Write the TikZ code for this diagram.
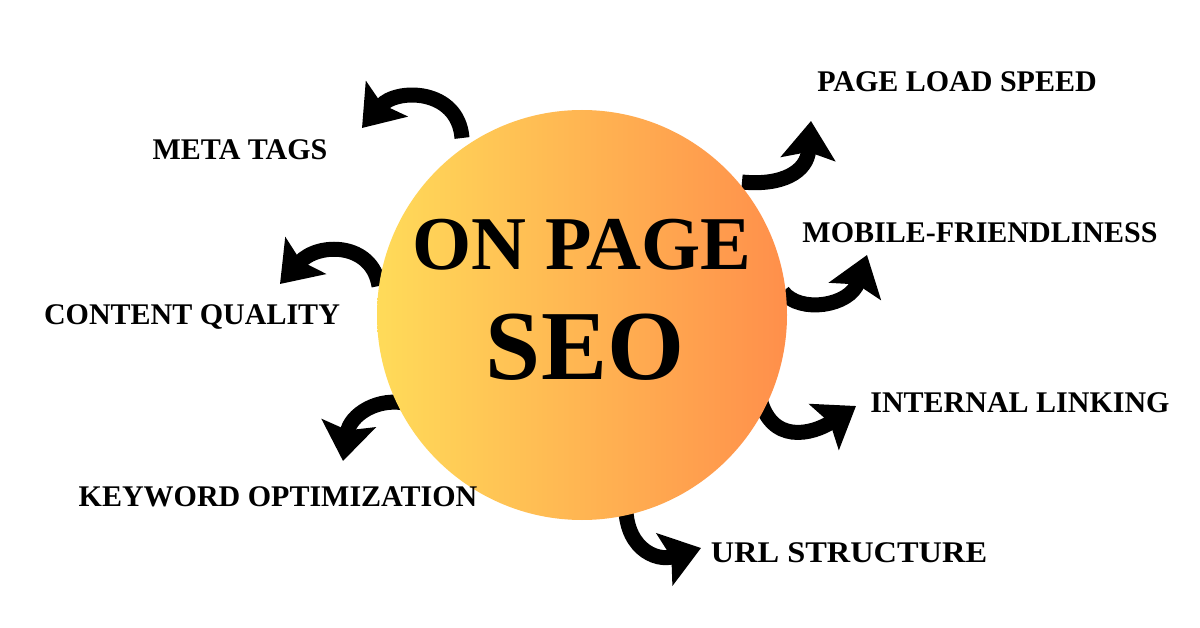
\documentclass[tikz,border=0pt]{standalone}
\usepackage{fontspec}
\setmainfont{Liberation Serif}
\usetikzlibrary{arrows.meta}
\definecolor{seoyellow}{HTML}{FFDB59}
\definecolor{seoorange}{HTML}{FF8F4B}
\tikzset{
  label/.style={font=\bfseries\fontsize{30}{34}\selectfont, anchor=base, inner sep=0pt},
  curvearrow/.style={line width=15pt, -{Stealth[length=38pt, width=54pt, inset=7pt]}},
}
\begin{document}
\begin{tikzpicture}[x=1pt, y=-1pt]
\useasboundingbox (0,0) rectangle (1200,628);
\fill[white] (0,0) rectangle (1200,628);
% arrow end points
\coordinate (t1) at (462,138); \coordinate (h1) at (362,128);
\coordinate (t2) at (742,182); \coordinate (h2) at (811,121);
\coordinate (t3) at (626,497); \coordinate (h3) at (701,548);
\coordinate (t4) at (379,286); \coordinate (h4) at (280,284);
\coordinate (t5) at (409,404); \coordinate (h5) at (343,461);
\coordinate (t6) at (783,292); \coordinate (h6) at (867,255);
\coordinate (t7) at (759,395); \coordinate (h7) at (856,406);
% arrows
\draw[curvearrow] (t1) .. controls (458,88) and (396,88) .. (h1);
\draw[curvearrow] (t2) .. controls (782,186) and (807,172) .. (h2);
\draw[curvearrow] (t3) .. controls (622,548) and (656,562) .. (h3);
\draw[curvearrow] (t4) .. controls (372,242) and (318,242) .. (h4);
\draw[curvearrow] (t5) .. controls (378,396) and (350,415) .. (h5);
\draw[curvearrow] (t6) .. controls (800,314) and (850,306) .. (h6);
\draw[curvearrow] (t7) .. controls (770,446) and (813,434) .. (h7);
% circle
\node[circle, minimum size=410pt, inner sep=0pt, left color=seoyellow, right color=seoorange] (seo) at (582,315) {};
\node[anchor=base, inner sep=0pt, font=\bfseries\fontsize{76}{80}\selectfont] (on) at (582,270) {ON PAGE};
\node[anchor=base, inner sep=0pt, font=\bfseries\fontsize{99}{100}\selectfont] (seot) at (585,380) {SEO};
% labels
\node[label] (meta) at (240,160) {META TAGS};
\node[label] (speed) at (957,92) {PAGE LOAD SPEED};
\node[label] (mobile) at (980,243) {MOBILE-FRIENDLINESS};
\node[label] (content) at (192,325) {CONTENT QUALITY};
\node[label] (internal) at (1020,413) {INTERNAL LINKING};
\node[label] (keyword) at (278,506) {KEYWORD OPTIMIZATION};
\node[label, xscale=1.08] (url) at (849,562) {URL STRUCTURE};
\end{tikzpicture}
\end{document}
